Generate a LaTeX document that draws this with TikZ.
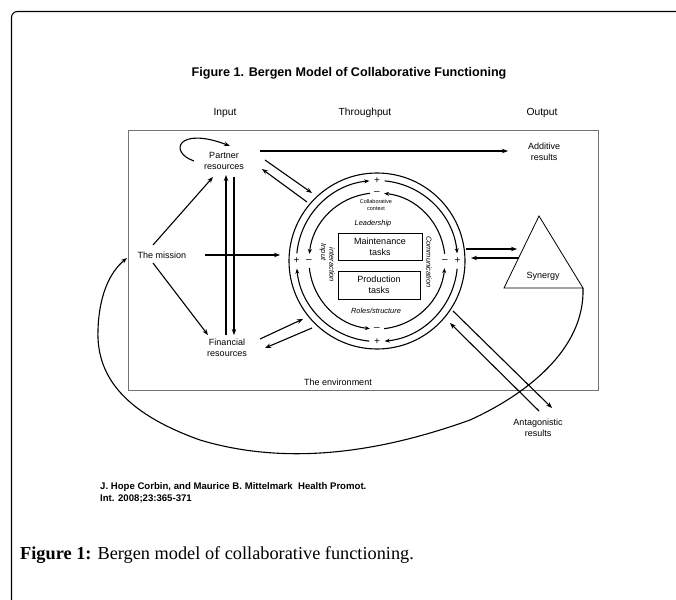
\documentclass[tikz,border=0pt]{standalone}
\usepackage{fontspec}
\setmainfont{Liberation Sans}
\newfontfamily\serifcap{Liberation Serif}
\usetikzlibrary{arrows.meta,calc}
\begin{document}
\begin{tikzpicture}[x=1pt,y=1pt,
  lbl/.style={font=\fontsize{9}{10.5}\selectfont, align=center, inner sep=1pt},
  head/.style={font=\fontsize{10.3}{12}\selectfont, inner sep=1pt},
  ring/.style={font=\fontsize{7.4}{8.5}\selectfont\itshape, inner sep=1pt},
  sgn/.style={font=\fontsize{10}{10}\selectfont, inner sep=0pt},
  arr/.style={line width=1.1pt, -{Stealth[length=6pt,width=4.5pt]}},
  rarr/.style={line width=1.1pt, -{Stealth[length=5pt,width=4pt]}},
  ln/.style={line width=1.1pt},
  taskbox/.style={draw, line width=0.8pt, font=\fontsize{9}{11}\selectfont, align=center, inner sep=0pt}
]
\useasboundingbox (0,0) rectangle (676,-599);
\clip (0,0) rectangle (676,-599);
% outer frame
\draw[line width=1.1pt] (11.5,-620) -- (11.5,-17.5) arc[start angle=180,end angle=90,radius=6] -- (700,-11.5);
% title and headings
\node[font=\bfseries\fontsize{12.6}{14}\selectfont] (title) at (349,-73) {Figure 1. Bergen Model of Collaborative Functioning};
\node[head] (hin) at (225,-113) {Input};
\node[head] (hthr) at (365,-113) {Throughput};
\node[head] (hout) at (542,-113) {Output};
% environment
\draw[line width=0.9pt, black!55] (128,-130) rectangle (598,-390);
\node[lbl] (env) at (338,-382) {The environment};
% labels
\node[lbl] (partner) at (224,-161) {Partner\\resources};
\node[lbl] (mission) at (162,-255) {The mission};
\node[lbl] (financial) at (227,-348) {Financial\\resources};
\node[lbl] (additive) at (544,-152) {Additive\\results};
\node[lbl] (antag) at (538,-428) {Antagonistic\\results};
% circle
\coordinate (C) at (377,-261);
\draw[ln] (C) circle[radius=88];
\foreach \a in {0,90,180,270}{
  \draw[rarr] (C) ++(\a+90-5.5:80.5) arc[start angle=\a+90-5.5, end angle=\a+5.5, radius=80.5];
  \draw[rarr] (C) ++(\a+6:68) arc[start angle=\a+6, end angle=\a+90-6, radius=68];
  \node[sgn] at ($(C)+(\a:80.5)$) {+};
  \node[sgn] at ($(C)+(\a:68)$) {--};
}
\node[font=\fontsize{5.5}{6.3}\selectfont, align=center, inner sep=0pt] (ctx) at (376,-205) {Collaborative\\context};
\node[ring] (lead) at (373,-224) {Leadership};
\node[ring] (roles) at (376,-311) {Roles/structure};
\node[ring, rotate=-90] (comm) at (429,-262) {Communication};
\node[ring, rotate=-90] (inp) at (323,-252) {Input};
\node[ring, rotate=-90] (inter) at (332,-265) {interaction};
\node[taskbox, minimum width=84pt, minimum height=27pt] (maint) at (380,-246.5) {Maintenance\\tasks};
\node[taskbox, minimum width=82pt, minimum height=28pt] (prod) at (379,-285) {Production\\tasks};
% synergy
\coordinate (syntop) at (539,-216);
\coordinate (synl) at (504,-288);
\coordinate (synr) at (583,-288);
\draw[line width=0.8pt] (syntop) -- (synl) -- (synr) -- cycle;
\node[lbl] (synergy) at (543,-276) {Synergy};
% endpoints
\coordinate (p1) at (260,-151); \coordinate (a1) at (508,-151);
\coordinate (m1) at (153,-245); \coordinate (p2) at (213,-177);
\coordinate (m2) at (153,-263); \coordinate (f1) at (208,-335);
\coordinate (m3) at (205,-255); \coordinate (c1) at (280,-255);
\coordinate (f2) at (226,-335); \coordinate (p3) at (226,-175);
\coordinate (p4) at (234,-177); \coordinate (f3) at (234,-335);
\coordinate (p5) at (265,-160); \coordinate (c2) at (312,-193);
\coordinate (c3) at (307,-202); \coordinate (p6) at (262,-169);
\coordinate (f4) at (260,-339); \coordinate (c4) at (303,-319);
\coordinate (c5) at (312,-328); \coordinate (f5) at (265,-348);
\coordinate (c6) at (466,-249); \coordinate (s1) at (517,-249);
\coordinate (s2) at (519,-258); \coordinate (c7) at (471,-258);
\coordinate (c8) at (453,-311); \coordinate (r1) at (552,-408);
\coordinate (r2) at (539,-411); \coordinate (c9) at (450,-323);
\coordinate (mend) at (127,-258);
\coordinate (loopa) at (194,-161); \coordinate (loopb) at (230,-146);
% connectors
\draw[arr] (p1) -- (a1);
\draw[arr] (m1) -- (p2);
\draw[arr] (m2) -- (f1);
\draw[arr] (m3) -- (c1);
\draw[arr] (f2) -- (p3);
\draw[arr] (p4) -- (f3);
\draw[arr] (p5) -- (c2);
\draw[arr] (c3) -- (p6);
\draw[arr] (f4) -- (c4);
\draw[arr] (c5) -- (f5);
\draw[arr] (c6) -- (s1);
\draw[arr] (s2) -- (c7);
\draw[arr] (c8) -- (r1);
\draw[arr] (r2) -- (c9);
\draw[arr] (loopa) .. controls (168,-152) and (178,-126) .. (loopb);
\draw[arr] (synr) .. controls (585,-350) and (525,-395) .. (470,-420)
  .. controls (400,-445) and (300,-470) .. (200,-440)
  .. controls (130,-415) and (96,-380) .. (98,-330)
  .. controls (99,-295) and (110,-272) .. (mend);
% citation and caption
\node[anchor=west, align=left, font=\bfseries\fontsize{9.6}{12.5}\selectfont, inner sep=0pt] (cite) at (100,-493) {J. Hope Corbin, and Maurice B. Mittelmark\ \ Health Promot.\\Int. 2008;23:365-371};
\node[anchor=west, inner sep=0pt, font=\serifcap\fontsize{18.3}{20}\selectfont] (cap) at (20,-555) {\textbf{Figure 1:} Bergen model of collaborative functioning.};
\end{tikzpicture}
\end{document}
